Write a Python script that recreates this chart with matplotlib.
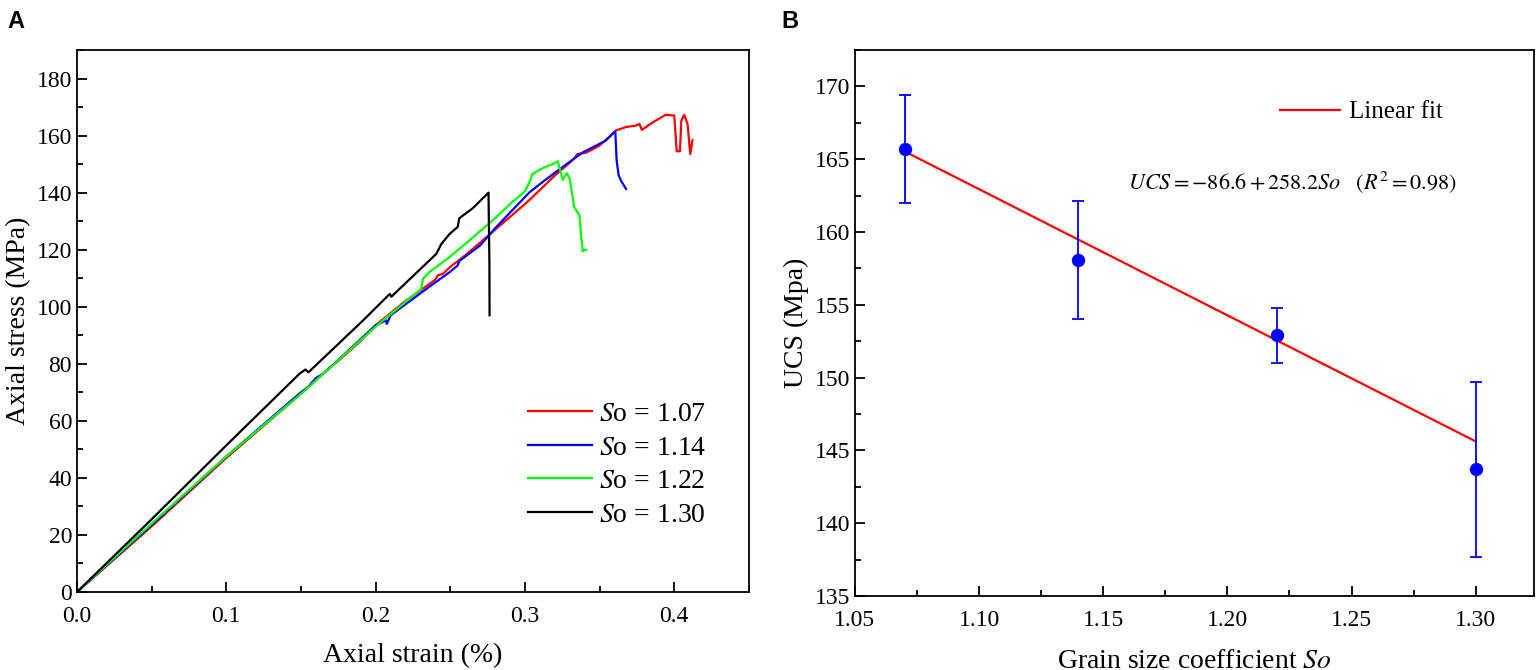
import matplotlib
matplotlib.use("Agg")
import matplotlib.pyplot as plt
from matplotlib.ticker import MultipleLocator

plt.rcParams['font.family'] = ['Liberation Serif', 'DejaVu Serif']
plt.rcParams['mathtext.fontset'] = 'stix'

# ---- panel A: stress-strain curves ----
labels_a = [r"$S$o = 1.07", r"$S$o = 1.14", r"$S$o = 1.22", r"$S$o = 1.30"]
colors_a = ['#ff0000', '#0000ff', '#00ff00', '#000000']

strain_107 = [0, 0.05, 0.1, 0.15, 0.17, 0.175, 0.19, 0.2, 0.22, 0.24, 0.2417, 0.245, 0.25,
              0.26, 0.28, 0.3, 0.303, 0.32, 0.33, 0.333, 0.335, 0.341, 0.35, 0.361, 0.3677,
              0.3744, 0.3766, 0.3783, 0.3855, 0.3944, 0.40, 0.4016, 0.4038, 0.4047, 0.4067,
              0.4089, 0.4107, 0.4122]
stress_107 = [0, 23, 47, 69.5, 79, 81, 88, 93.5, 102, 109.5, 111, 111.5, 114,
              118, 127, 136, 137.4, 146, 150.5, 152, 153.5, 154, 156.5, 161.8, 163,
              163.5, 164.1, 162, 164.6, 167.3, 167, 154.5, 154.5, 165.2, 167.3,
              164, 153.5, 158.4]

strain_114 = [0, 0.05, 0.1, 0.15, 0.155, 0.16, 0.165, 0.2, 0.207, 0.2075, 0.21, 0.236,
              0.2495, 0.255, 0.256, 0.27, 0.28, 0.29, 0.303, 0.313, 0.325, 0.3387, 0.354,
              0.3605, 0.3614, 0.3628, 0.3645, 0.3677]
stress_114 = [0, 23.5, 47.5, 70, 72, 75, 76.5, 93.5, 95.2, 94, 97, 107,
              112.1, 114.5, 116, 121.5, 127.5, 133, 140.1, 144.2, 148.9, 154.1, 158.2,
              161.5, 151.2, 146, 144, 141.3]

strain_122 = [0, 0.05, 0.1, 0.149, 0.2, 0.205, 0.2306, 0.2317, 0.236, 0.2495, 0.26, 0.28,
              0.29, 0.3, 0.303, 0.305, 0.312, 0.3186, 0.322, 0.3253, 0.328, 0.33, 0.333,
              0.3365, 0.3375, 0.3387, 0.341]
stress_122 = [0, 24, 47.5, 69, 93, 95.2, 106.3, 109.8, 112.1, 117.4, 122, 131,
              136, 140.5, 143.6, 146.5, 148.6, 150, 151, 144.5, 146.8, 144.8, 134.9,
              132, 125.5, 119.5, 120]

strain_130 = [0, 0.05, 0.1, 0.149, 0.153, 0.155, 0.1916, 0.2095, 0.2105, 0.2406, 0.244,
              0.2495, 0.255, 0.256, 0.265, 0.2756, 0.2762, 0.2763]
stress_130 = [0, 25.5, 51.4, 76.5, 78, 77, 95.2, 104.5, 103.5, 118.5, 122,
              125.5, 128, 131, 134.5, 140, 115, 97]

curves = [(strain_107, stress_107), (strain_114, stress_114),
          (strain_122, stress_122), (strain_130, stress_130)]

# ---- panel B: UCS vs grain size coefficient ----
so = [1.07, 1.14, 1.22, 1.30]
ucs = [165.7, 158.1, 152.9, 143.7]
ucs_err = [3.7, 4.05, 1.9, 6.0]
fit_intercept = 258.2
fit_slope = -86.6
fit_x = [1.07, 1.30]

fig = plt.figure(figsize=(15.36, 6.70), dpi=100)
ax1 = fig.add_axes([0.0501, 0.1164, 0.4375, 0.809])
ax2 = fig.add_axes([0.5566, 0.1104, 0.4421, 0.815])

tick_fs = 17
label_fs = 20

for ax in (ax1, ax2):
    for sp in ax.spines.values():
        sp.set_linewidth(1.3)
    ax.tick_params(which='both', direction='in', width=1.3, labelsize=tick_fs,
                   top=False, right=False)
    ax.tick_params(which='major', length=7)
    ax.tick_params(which='minor', length=4)

for (sx, sy), lab, col in zip(curves, labels_a, colors_a):
    ax1.plot(sx, sy, color=col, lw=1.6, label=lab)

ax1.set_xlim(0, 0.45)
ax1.set_ylim(0, 190)
ax1.xaxis.set_major_locator(MultipleLocator(0.1))
ax1.xaxis.set_minor_locator(MultipleLocator(0.05))
ax1.yaxis.set_major_locator(MultipleLocator(20))
ax1.yaxis.set_minor_locator(MultipleLocator(10))
ax1.xaxis.set_major_formatter(lambda v, p: f"{v:.1f}")
ax1.tick_params(axis='x', pad=10)
ax1.set_xlabel("Axial strain (%)", fontsize=label_fs, labelpad=12)
ax1.set_ylabel("Axial stress (MPa)", fontsize=label_fs, labelpad=4)
ax1.legend(loc='upper left', bbox_to_anchor=(0.671, 0.351), frameon=False,
           fontsize=label_fs, handlelength=2.3, handletextpad=0.25,
           labelspacing=0.29, borderpad=0, borderaxespad=0)

ax2.errorbar(so, ucs, yerr=ucs_err, fmt='o', color='#0000ff', ms=8.6,
             elinewidth=1.3, capsize=4.5, capthick=1.3, zorder=3)
fit_y = [fit_intercept + fit_slope * v for v in fit_x]
ax2.plot(fit_x, fit_y, color='#ff0000', lw=1.6, label="Linear fit", zorder=2)

ax2.set_xlim(1.05, 1.3235)
ax2.set_ylim(135, 172.5)
ax2.xaxis.set_major_locator(MultipleLocator(0.05))
ax2.xaxis.set_minor_locator(MultipleLocator(0.025))
ax2.yaxis.set_major_locator(MultipleLocator(5))
ax2.yaxis.set_minor_locator(MultipleLocator(2.5))
ax2.xaxis.set_major_formatter(lambda v, p: f"{v:.2f}")
ax2.tick_params(axis='x', pad=10)
ax2.set_xlabel(r"Grain size coefficient $So$", fontsize=label_fs, labelpad=13)
ax2.set_ylabel("UCS (Mpa)", fontsize=label_fs, labelpad=4)
ax2.legend(loc='upper left', bbox_to_anchor=(0.626, 0.907), frameon=False,
           fontsize=18, handlelength=2.4, handletextpad=0.35,
           borderpad=0, borderaxespad=0)
ax2.text(0.402, 0.758, r"$UCS=-86.6+258.2So\ \ \ \left(R^2=0.98\right)$",
         transform=ax2.transAxes, fontsize=16, va='center', ha='left')

fig.text(0.005, 0.985, "A", fontsize=17, fontweight='bold',
         family='Liberation Sans', va='top', ha='left')
fig.text(0.509, 0.985, "B", fontsize=17, fontweight='bold',
         family='Liberation Sans', va='top', ha='left')

fig.savefig("out.png", dpi=100)
